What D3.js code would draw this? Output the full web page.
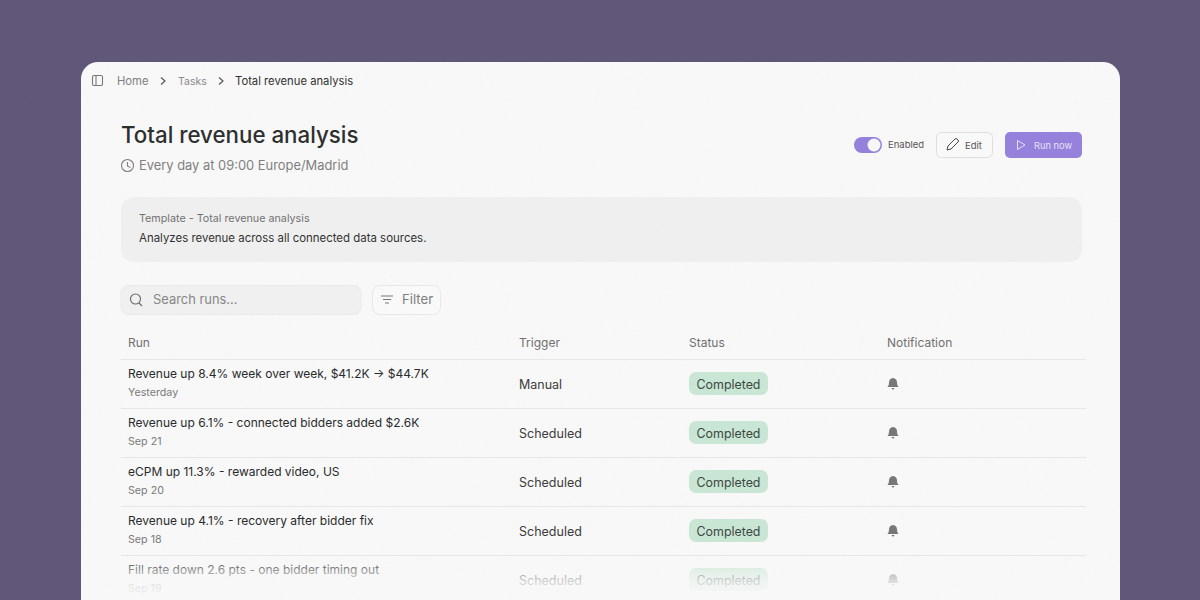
<!DOCTYPE html>
<html>
<head>
<meta charset="utf-8">
<script src="https://cdn.jsdelivr.net/npm/d3@7"></script>
<style>
html, body { margin: 0; padding: 0; background: #5f5678; overflow: hidden; }
svg { display: block; font-family: Inter, "Noto Sans", sans-serif; }
</style>
</head>
<body>
<div id="chart"></div>
<script>
const crumbs = ["Home", "Tasks", "Total revenue analysis"];
const columns = ["Run", "Trigger", "Status", "Notification"];
const runTitles = [
    "Revenue up 8.4% week over week, $41.2K → $44.7K",
    "Revenue up 6.1% - connected bidders added $2.6K",
    "eCPM up 11.3% - rewarded video, US",
    "Revenue up 4.1% - recovery after bidder fix",
    "Fill rate down 2.6 pts - one bidder timing out"
];
const runDates = ["Yesterday", "Sep 21", "Sep 20", "Sep 18", "Sep 19"];
const triggers = ["Manual", "Scheduled", "Scheduled", "Scheduled", "Scheduled"];
const statuses = ["Completed", "Completed", "Completed", "Completed", "Completed"];

const svg = d3.select("#chart").append("svg")
    .attr("width", 1200)
    .attr("height", 600);

const defs = svg.append("defs");
const fade = defs.append("linearGradient")
    .attr("id", "fade")
    .attr("x1", 0).attr("x2", 0).attr("y1", 0).attr("y2", 1);
fade.append("stop").attr("offset", "0%").attr("stop-color", "#f9f9f9").attr("stop-opacity", 0);
fade.append("stop").attr("offset", "35%").attr("stop-color", "#f9f9f9").attr("stop-opacity", 0.55);
fade.append("stop").attr("offset", "60%").attr("stop-color", "#f9f9f9").attr("stop-opacity", 0.8);
fade.append("stop").attr("offset", "100%").attr("stop-color", "#f9f9f9").attr("stop-opacity", 0.97);

// fine grain that sits over the whole picture
const grain = defs.append("filter").attr("id", "grain")
    .attr("x", 0).attr("y", 0).attr("width", "100%").attr("height", "100%");
grain.append("feTurbulence")
    .attr("type", "fractalNoise").attr("baseFrequency", 0.9).attr("numOctaves", 2).attr("seed", 4);
grain.append("feColorMatrix").attr("type", "saturate").attr("values", 0);

// card
svg.append("rect")
    .attr("x", 81).attr("y", 62)
    .attr("width", 1039).attr("height", 600)
    .attr("rx", 17)
    .attr("fill", "#f9f9f9");

function label(parent, x, y, str, size, color, weight) {
    return parent.append("text")
        .attr("x", x).attr("y", y)
        .attr("font-size", size)
        .attr("font-weight", weight || 400)
        .attr("fill", color)
        .text(str);
}

// breadcrumb
const crumbBar = svg.append("g");
crumbBar.append("rect").attr("x", 92.5).attr("y", 75.5).attr("width", 10).attr("height", 10).attr("rx", 1.5)
    .attr("fill", "none").attr("stroke", "#777").attr("stroke-width", 1.1);
crumbBar.append("line").attr("x1", 96).attr("x2", 96).attr("y1", 75.5).attr("y2", 85.5)
    .attr("stroke", "#777").attr("stroke-width", 1.1);

const crumbX = [117, 178, 235];
const crumbSize = [11.25, 10.5, 11.25];
const crumbColor = ["#7d7d7d", "#8a8a8a", "#2f2f2f"];
crumbs.forEach((c, i) => label(crumbBar, crumbX[i], 85, c, crumbSize[i], crumbColor[i]));
[161, 219].forEach(x => {
    crumbBar.append("path")
        .attr("d", d3.line()([[x, 77.5], [x + 4, 81], [x, 84.5]]))
        .attr("fill", "none").attr("stroke", "#555").attr("stroke-width", 1.2);
});

// heading
label(svg, 121, 143, "Total revenue analysis", 22.3, "#2b2d2d", 500);
svg.append("circle").attr("cx", 127.5).attr("cy", 165.5).attr("r", 6)
    .attr("fill", "none").attr("stroke", "#7d7d7d").attr("stroke-width", 1.1);
svg.append("path").attr("d", d3.line()([[127.5, 162], [127.5, 166], [130.5, 167.5]]))
    .attr("fill", "none").attr("stroke", "#7d7d7d").attr("stroke-width", 1.1);
label(svg, 139, 170, "Every day at 09:00 Europe/Madrid", 12.9, "#7f7f7f");

// toggle + buttons
svg.append("rect").attr("x", 854).attr("y", 137).attr("width", 28).attr("height", 16).attr("rx", 8).attr("fill", "#9580dc");
svg.append("circle").attr("cx", 874).attr("cy", 145).attr("r", 6.5).attr("fill", "#f8f8f8");
label(svg, 888, 148, "Enabled", 9.5, "#555");

svg.append("rect").attr("x", 936.5).attr("y", 132.5).attr("width", 56).attr("height", 25).attr("rx", 5)
    .attr("fill", "#fafafa").attr("stroke", "#dedede");
svg.append("path")
    .attr("d", "M947 150 L948 146 L955 139 Q956 138 957 139 L958 140 Q959 141 958 142 L951 149 Z")
    .attr("fill", "none").attr("stroke", "#444").attr("stroke-width", 1);
label(svg, 965, 149, "Edit", 9.5, "#555");

svg.append("rect").attr("x", 1005).attr("y", 132).attr("width", 77).attr("height", 26).attr("rx", 5).attr("fill", "#9580dc");
svg.append("path").attr("d", "M1017.5 140.5 L1025 145 L1017.5 149.5 Z")
    .attr("fill", "none").attr("stroke", "#e8e2f8").attr("stroke-width", 1);
label(svg, 1034, 149, "Run now", 9.3, "#e8e2f8");

// template box
svg.append("rect").attr("x", 121).attr("y", 197).attr("width", 961).attr("height", 65).attr("rx", 13).attr("fill", "#f0f0f0");
label(svg, 139, 222, "Template - Total revenue analysis", 10.75, "#707070");
label(svg, 139, 242, "Analyzes revenue across all connected data sources.", 11.45, "#2f2f2f");

// search + filter
svg.append("rect").attr("x", 121).attr("y", 285.5).attr("width", 240).attr("height", 29).attr("rx", 7)
    .attr("fill", "#f1f1f1").attr("stroke", "#ebebeb");
svg.append("circle").attr("cx", 135.5).attr("cy", 299).attr("r", 5).attr("fill", "none").attr("stroke", "#666").attr("stroke-width", 1.1);
svg.append("line").attr("x1", 139).attr("y1", 303).attr("x2", 142).attr("y2", 306).attr("stroke", "#666").attr("stroke-width", 1.1);
label(svg, 153, 304, "Search runs...", 12.9, "#868686");

svg.append("rect").attr("x", 372.5).attr("y", 285.5).attr("width", 68).attr("height", 29).attr("rx", 7)
    .attr("fill", "#fafafa").attr("stroke", "#e9e9e9");
[[381, 393, 296], [383, 391, 299.5], [385, 389, 303]].forEach(d => {
    svg.append("line").attr("x1", d[0]).attr("x2", d[1]).attr("y1", d[2]).attr("y2", d[2])
        .attr("stroke", "#777").attr("stroke-width", 1);
});
label(svg, 402, 304, "Filter", 13.2, "#7d7d7d");

// table
const colX = d3.scaleOrdinal().domain(columns).range([128, 519, 689, 887]);
const rowY = d3.scaleBand()
    .domain(d3.range(runTitles.length))
    .range([359.5, 359.5 + 49 * runTitles.length]);

svg.selectAll("text.head")
    .data(columns)
    .join("text")
    .attr("class", "head")
    .attr("x", d => colX(d))
    .attr("y", 346.5)
    .attr("font-size", 12)
    .attr("fill", "#6f6f6f")
    .text(d => d);

svg.append("line").attr("x1", 121).attr("x2", 1086).attr("y1", 359.5).attr("y2", 359.5).attr("stroke", "#e8e8e8");

const rows = svg.selectAll("g.row")
    .data(d3.range(runTitles.length))
    .join("g")
    .attr("class", "row")
    .attr("transform", d => "translate(0," + rowY(d) + ")");

rows.append("line")
    .attr("x1", 121).attr("x2", 1086)
    .attr("y1", rowY.bandwidth()).attr("y2", rowY.bandwidth())
    .attr("stroke", "#e8e8e8");

rows.append("text")
    .attr("x", colX("Run")).attr("y", 18.7)
    .attr("font-size", 12).attr("font-weight", 400).attr("fill", "#26282a")
    .text(d => runTitles[d]);

rows.append("text")
    .attr("x", colX("Run")).attr("y", 36.2)
    .attr("font-size", 10.7).attr("fill", "#7a7a7a")
    .text(d => runDates[d]);

rows.append("text")
    .attr("x", colX("Trigger")).attr("y", 29)
    .attr("font-size", 12.5).attr("fill", "#3a3a3a")
    .text(d => triggers[d]);

rows.append("rect")
    .attr("x", colX("Status")).attr("y", 12.5)
    .attr("width", 79).attr("height", 23).attr("rx", 7)
    .attr("fill", "#c9e7d4");

rows.append("text")
    .attr("x", colX("Status") + 39.5).attr("y", 29)
    .attr("text-anchor", "middle")
    .attr("font-size", 12.4).attr("font-weight", 400).attr("fill", "#3a453f")
    .text(d => statuses[d]);

rows.append("path")
    .attr("transform", "translate(" + (colX("Notification") + 6) + ",24)")
    .attr("d", "M-5.5 3.5 Q-4 2.5 -4 -1 Q-4 -5 0 -5.5 Q4 -5 4 -1 Q4 2.5 5.5 3.5 Z M-1.5 4.5 H1.5 Q1 6 0 6 Q-1 6 -1.5 4.5 Z")
    .attr("fill", "#777");

// bottom fade over the last row
svg.append("rect")
    .attr("x", 82).attr("y", 556)
    .attr("width", 1037).attr("height", 44)
    .attr("fill", "url(#fade)");

svg.append("rect")
    .attr("width", 1200).attr("height", 600)
    .attr("filter", "url(#grain)")
    .attr("opacity", 0.035);
</script>
</body>
</html>
